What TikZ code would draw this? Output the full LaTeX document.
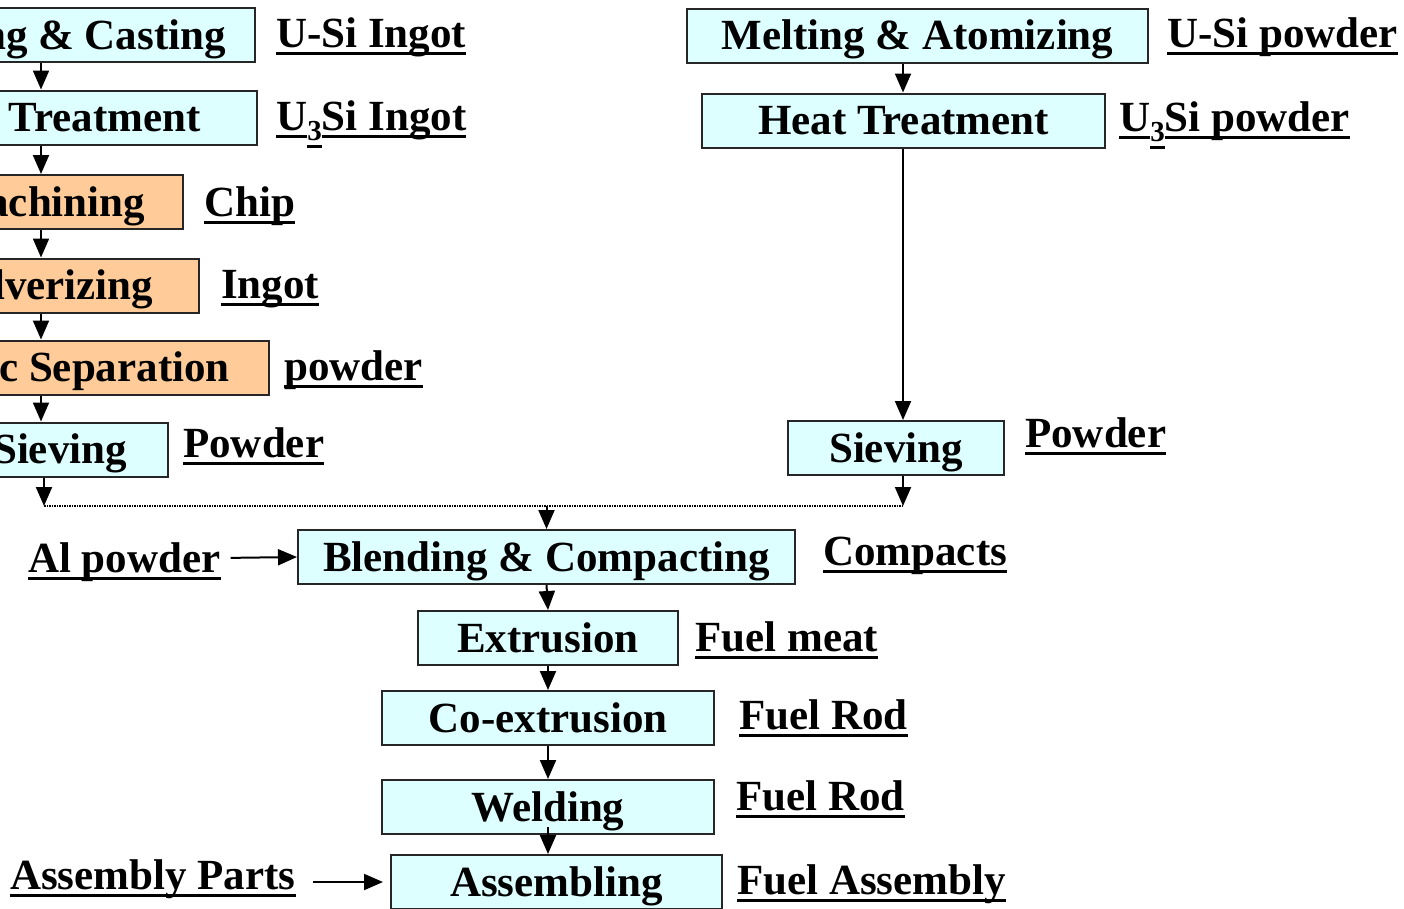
\documentclass[tikz,border=0pt]{standalone}
\usepackage{fontspec}
\setmainfont{Liberation Serif}
\usepackage{xcolor}
\usepackage{tikz}
\usetikzlibrary{arrows.meta}

\definecolor{boxcyan}{HTML}{DDFFFF}
\definecolor{boxorange}{HTML}{FFCC99}
% underline at a fixed depth below the baseline
\newsavebox{\ulbox}
\newcommand{\ul}[1]{\sbox{\ulbox}{#1}\rlap{\usebox{\ulbox}}\rule[-8pt]{\wd\ulbox}{3pt}}
% lowered, underlined 3
\newcommand{\uthree}{\raisebox{-10pt}{\fontsize{29}{30}\selectfont\ul{3}}}

\begin{document}
\begin{tikzpicture}[x=1pt, y=-1pt,
      font=\fontsize{43}{50}\selectfont\bfseries,
      arr/.style={-{Triangle[width=16pt,length=19pt]}, line width=2pt},
      dots/.style={densely dotted, line width=1.5pt},
      cbox/.style={rectangle, draw=black!85, line width=2pt, fill=boxcyan,
          minimum height=54pt, text height=28pt, text depth=0pt, inner sep=0pt},
      obox/.style={cbox, fill=boxorange},
      prod/.style={anchor=base west, inner sep=0pt, text height=28pt, text depth=0pt},
    ]
    \useasboundingbox (0,0) rectangle (1404,908);
    \clip (0,0) rectangle (1404,908);

    %% ── LEFT ROUTE (ingot) ──────────────────────────────────────────────────
    \node[cbox, minimum width=400pt] at (55, 35)    (mc)  {Melting \& Casting};
    \node[cbox, minimum width=404pt] at (55, 117.5) (ht)  {Heat Treatment};
    \node[obox, minimum width=274pt] at (46, 202)   (mh)  {Machining};
    \node[obox, minimum width=302pt] at (48, 285.5) (pv)  {Pulverizing};
    \node[obox, minimum width=462pt] at (38, 367.5) (ms)  {Magnetic Separation};
    \node[cbox, minimum width=216pt] at (60, 449.5) (lsv) {Sieving};

    \node[prod] at (276, 47)  (usi)   {\ul{U-Si Ingot}};
    \node[prod] at (276, 130) (u3si)  {\ul{U}\uthree\ul{Si Ingot}};
    \node[prod] at (204, 216) (chip)  {\ul{Chip}};
    \node[prod] at (221, 298) (ingot) {\ul{Ingot}};
    \node[prod] at (284, 380) (lpow)  {\ul{powder}};
    \node[prod] at (183, 457) (lpow2) {\ul{Powder}};

    %% ── RIGHT ROUTE (atomized) ──────────────────────────────────────────────
    \node[cbox, minimum width=461pt] at (917.5, 35.5)  (ma)  {Melting \& Atomizing};
    \node[cbox, minimum width=403pt] at (903.5, 120.5) (rht) {Heat Treatment};
    \node[cbox, minimum width=216pt] at (896, 448)     (rsv) {Sieving};

    \node[prod] at (1167, 47)  (usip)  {\ul{U-Si powder}};
    \node[prod] at (1119, 131) (u3sip) {\ul{U}\uthree\ul{Si powder}};
    \node[prod] at (1025, 447) (rpow)  {\ul{Powder}};

    %% ── COMMON ROUTE ────────────────────────────────────────────────────────
    \node[cbox, minimum width=497pt] at (546.5, 557) (bc) {Blending \& Compacting};
    \node[cbox, minimum width=260pt] at (548, 638)   (ex) {Extrusion};
    \node[cbox, minimum width=332pt] at (548, 718)   (co) {Co-extrusion};
    \node[cbox, minimum width=332pt] at (548, 807)   (we) {Welding};
    \node[cbox, minimum width=331pt] at (556.5, 882) (as) {Assembling};

    \node[prod] at (823, 565) (cpt)   {\ul{Compacts}};
    \node[prod] at (695, 651) (meat)  {\ul{Fuel meat}};
    \node[prod] at (739, 729) (rod)   {\ul{Fuel Rod}};
    \node[prod] at (736, 810) (rod2)  {\ul{Fuel Rod}};
    \node[prod] at (737, 894) (fa)    {\ul{Fuel Assembly}};
    \node[prod] at (28, 572)  (alp)   {\ul{Al powder}};
    \node[prod] at (10, 889)  (ap)    {\ul{Assembly Parts}};

    %% ── ARROWS ──────────────────────────────────────────────────────────────
    \coordinate (lcol) at (41, 0);
    \coordinate (lend) at (44, 506);
    \coordinate (rend) at (903, 506);

    \foreach \a/\b in {mc/ht, ht/mh, mh/pv, pv/ms, ms/lsv}
      \draw[arr] (\a.south -| lcol) -- (\b.north -| lcol);
    \draw[arr] (lsv.south -| lend) -- (lend);

    \draw[arr] (ma.south -| rend)  -- (rht.north -| rend);
    \draw[arr] (rht.south -| rend) -- (rsv.north -| rend);
    \draw[arr] (rsv.south -| rend) -- (rend);

    \draw[dots] (lend) -- (rend);
    \draw[arr] (bc.north |- lend) -- (bc.north);

    \foreach \a/\b in {bc/ex, ex/co, co/we}
      \draw[arr] (\a.south) -- (\b.north);
    \draw[arr] ([yshift=8pt]we.south) -- (as.north -| we.south);

    \draw[arr, shorten <=10pt] (alp.east) -- (bc.west);
    \draw[arr, shorten <=17pt, shorten >=7pt] (ap.east |- as.west) -- (as.west);

  \end{tikzpicture}
\end{document}
